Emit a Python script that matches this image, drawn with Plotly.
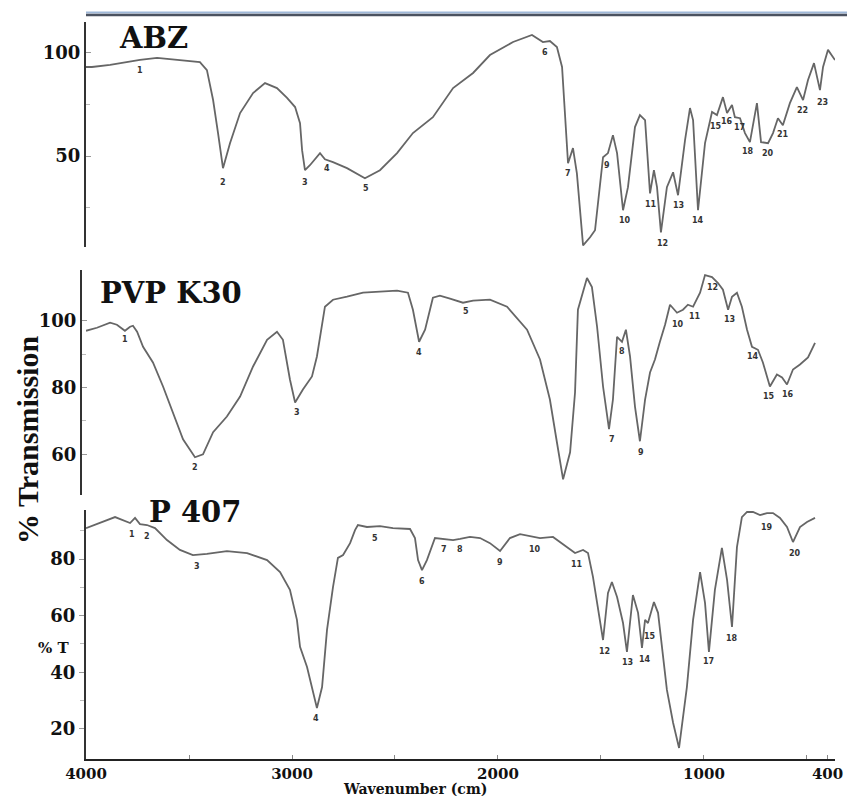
import plotly.graph_objects as go

# ---------------- data (wavenumber cm-1, %T) ----------------
abz_wn = [4000, 3971, 3883, 3801, 3738, 3655, 3607, 3510, 3447, 3413, 3383, 3359, 3335, 3301, 3252,
          3189, 3131, 3073, 3024, 2985, 2961, 2951, 2937, 2913, 2879, 2864, 2840, 2801, 2733, 2646,
          2573, 2490, 2413, 2316, 2218, 2121, 2039, 1927, 1835, 1782, 1748, 1714, 1689, 1675, 1660,
          1636, 1617, 1587, 1553, 1529, 1490, 1466, 1442, 1422, 1393, 1369, 1335, 1311, 1286, 1262,
          1243, 1228, 1209, 1180, 1150, 1126, 1092, 1068, 1053, 1029, 995, 961, 937, 908, 888, 864,
          850, 825, 801, 777, 743, 723, 689, 665, 641, 617, 583, 549, 519, 495, 466, 437, 422, 398, 364]
abz_t = [93.2, 93.2, 94.2, 95.6, 96.6, 97.6, 97.1, 96.1, 95.6, 91.7, 77.2, 61.2, 44.2, 56.3, 70.9,
         80.6, 85.4, 83.0, 78.2, 73.8, 66.0, 52.9, 43.2, 45.6, 49.5, 51.5, 48.5, 47.1, 44.2, 39.3,
         43.2, 51.5, 61.2, 68.9, 83.0, 90.3, 99.0, 105.3, 108.7, 105.3, 105.8, 102.9, 93.2, 68.9, 46.6,
         53.9, 41.7, 6.8, 10.7, 14.1, 49.5, 51.5, 60.2, 51.5, 23.8, 35.0, 64.1, 69.9, 67.5, 32.0,
         43.2, 35.0, 13.1, 35.0, 42.2, 31.1, 57.8, 73.3, 67.5, 23.8, 56.3, 71.4, 69.9, 78.6, 70.9, 74.8,
         68.9, 68.4, 61.2, 56.8, 75.7, 56.8, 56.3, 61.2, 68.4, 65.0, 75.7, 83.5, 77.2, 86.9, 95.1, 82.0, 93.2, 101.5, 96.6]

pvp_wn = [4000, 3947, 3883, 3850, 3811, 3786, 3772, 3752, 3723, 3675, 3626, 3578, 3529, 3471, 3432,
          3383, 3316, 3252, 3189, 3121, 3073, 3044, 3010, 2985, 2947, 2903, 2879, 2840, 2801, 2733,
          2655, 2573, 2490, 2437, 2413, 2383, 2354, 2316, 2282, 2233, 2170, 2121, 2039, 1956, 1859,
          1796, 1748, 1714, 1684, 1650, 1626, 1612, 1568, 1544, 1519, 1490, 1461, 1442, 1422, 1398,
          1379, 1359, 1335, 1311, 1286, 1262, 1238, 1214, 1189, 1165, 1131, 1102, 1078, 1053, 1019,
          995, 961, 932, 908, 883, 864, 840, 816, 791, 767, 738, 714, 680, 646, 621, 597, 568, 534, 495, 461]
pvp_t = [97.0, 97.9, 99.4, 98.8, 97.0, 98.2, 98.5, 96.7, 92.2, 87.5, 80.3, 72.5, 64.5, 59.1, 60.0,
         66.6, 71.3, 77.3, 86.3, 94.3, 96.7, 94.3, 82.4, 75.5, 79.4, 83.3, 89.3, 104.2, 106.3, 107.2,
         108.4, 108.7, 109.0, 108.4, 103.3, 93.7, 97.3, 106.9, 107.5, 106.6, 105.4, 106.0, 106.3, 104.2, 97.3,
         88.4, 76.4, 63.6, 52.5, 60.6, 78.5, 103.3, 112.8, 110.1, 98.2, 80.3, 67.5, 76.4, 95.2, 93.7,
         97.3, 89.3, 74.3, 63.9, 76.4, 84.5, 88.4, 93.7, 98.8, 104.8, 102.4, 103.3, 104.8, 104.2, 108.4,
         113.7, 113.1, 111.3, 109.3, 103.3, 107.2, 108.4, 104.2, 97.3, 92.2, 91.3, 87.5, 80.3, 83.9, 83.0, 80.9, 85.4, 86.9, 89.0, 93.4]

p407_wn = [4000, 3932, 3859, 3786, 3762, 3738, 3704, 3665, 3607, 3544, 3481, 3413, 3316, 3218, 3121,
           3058, 3010, 2976, 2961, 2927, 2898, 2879, 2854, 2830, 2801, 2777, 2752, 2718, 2694, 2680,
           2636, 2573, 2510, 2427, 2403, 2388, 2369, 2345, 2306, 2267, 2218, 2184, 2136, 2087, 2039,
           1990, 1942, 1893, 1845, 1796, 1733, 1699, 1665, 1626, 1587, 1563, 1539, 1515, 1490, 1466,
           1447, 1422, 1393, 1374, 1359, 1345, 1320, 1301, 1286, 1272, 1243, 1223, 1180, 1150, 1121,
           1083, 1053, 1019, 995, 976, 947, 913, 888, 864, 840, 816, 791, 762, 728, 694, 665, 631,
           597, 568, 534, 500, 461]
p407_t = [90.9, 92.7, 94.8, 92.7, 94.5, 92.3, 92.0, 90.9, 86.7, 83.2, 81.4, 81.8, 82.8, 82.1, 79.6,
          75.4, 69.1, 58.5, 49.0, 41.9, 32.7, 27.4, 34.8, 55.0, 70.1, 80.4, 81.4, 85.6, 90.2, 92.0,
          91.3, 91.6, 90.9, 90.6, 87.4, 79.6, 76.1, 79.6, 87.4, 87.1, 86.7, 87.1, 87.8, 87.4, 85.6,
          82.8, 87.4, 88.8, 88.1, 87.4, 87.8, 86.0, 83.9, 82.1, 83.2, 82.1, 73.7, 63.1, 51.4, 68.0,
          71.9, 66.6, 57.4, 47.2, 58.5, 67.3, 61.0, 48.6, 58.5, 57.4, 64.8, 61.0, 33.8, 22.2, 13.3,
          34.8, 58.5, 75.4, 64.5, 47.2, 69.1, 83.9, 72.6, 56.0, 84.2, 94.8, 96.6, 96.6, 95.5, 96.2, 96.2, 94.5,
          91.3, 86.0, 91.3, 93.1, 94.5]

# peak number labels
abz_lbl_wn = [3738, 3335, 2937, 2830, 2641, 1772, 1660, 1471, 1383, 1257, 1199, 1126, 1029, 942, 888, 830, 786, 689, 617, 524, 427]
abz_lbl_t = [91.7, 37.4, 37.4, 44.2, 34.5, 100.0, 41.7, 45.6, 18.9, 26.7, 7.8, 26.2, 18.9, 64.6, 66.6, 63.9, 52.4, 51.5, 60.7, 72.3, 76.2]
abz_lbl = ["1", "2", "3", "4", "5", "6", "7", "9", "10", "11", "12", "13", "14", "15", "16", "17", "18", "20", "21", "22", "23"]

pvp_lbl_wn = [3811, 3471, 2976, 2383, 2155, 1447, 1398, 1306, 1126, 1044, 961, 874, 762, 684, 592]
pvp_lbl_t = [94.3, 56.1, 72.5, 90.4, 102.7, 64.5, 90.7, 60.6, 98.8, 101.2, 110.1, 100.3, 89.3, 77.3, 77.9]
pvp_lbl = ["1", "2", "3", "4", "5", "7", "8", "9", "10", "11", "12", "13", "14", "15", "16"]

p407_lbl_wn = [3777, 3704, 3461, 2883, 2597, 2369, 2262, 2184, 1990, 1820, 1617, 1481, 1369, 1286, 1262, 976, 864, 694, 558]
p407_lbl_t = [88.8, 87.8, 77.5, 23.6, 87.4, 71.9, 83.2, 83.2, 78.9, 83.2, 77.9, 47.2, 43.3, 44.4, 52.8, 43.7, 52.1, 91.3, 82.1]
p407_lbl = ["1", "2", "3", "4", "5", "6", "7", "8", "9", "10", "11", "12", "13", "14", "15", "17", "18", "19", "20"]

x_ticks = [4000, 3000, 2000, 1000, 400]
panel_names = ["ABZ", "PVP K30", "P 407"]

# ---------------- figure ----------------
W, H = 847, 796
def px(x):
    return x / W
def py(y):
    return 1 - y / H

SERIF = "DejaVu Serif"
line_style = dict(color="#666666", width=1.8)

fig = go.Figure()
fig.add_trace(go.Scatter(x=abz_wn, y=abz_t, mode="lines", line=line_style, xaxis="x", yaxis="y", showlegend=False))
fig.add_trace(go.Scatter(x=pvp_wn, y=pvp_t, mode="lines", line=line_style, xaxis="x", yaxis="y2", showlegend=False))
fig.add_trace(go.Scatter(x=p407_wn, y=p407_t, mode="lines", line=line_style, xaxis="x", yaxis="y3", showlegend=False))

lbl_font = dict(family="DejaVu Sans", size=8, color="#333333", weight="bold")
for wn, t, s, ya in [(abz_lbl_wn, abz_lbl_t, abz_lbl, "y"), (pvp_lbl_wn, pvp_lbl_t, pvp_lbl, "y2"),
                     (p407_lbl_wn, p407_lbl_t, p407_lbl, "y3")]:
    for a, b, c in zip(wn, t, s):
        fig.add_annotation(x=a, y=b, text=c, xref="x", yref=ya, showarrow=False, font=lbl_font,
                           xanchor="center", yanchor="middle")

tickfont = dict(family=SERIF, size=18, color="#111111", weight="bold")
xtickfont = dict(family=SERIF, size=15, color="#111111", weight="bold")
xdom = [px(86), px(835)]

fig.update_layout(
    width=W, height=H, margin=dict(l=0, r=0, t=0, b=0, autoexpand=False),
    paper_bgcolor="white", plot_bgcolor="rgba(0,0,0,0)",
    xaxis=dict(domain=xdom, range=[4000, 364], anchor="y3", showgrid=False, zeroline=False, automargin=False,
               showline=True, linecolor="#222222", linewidth=2,
               tickvals=x_ticks, ticktext=[str(v) for v in x_ticks], ticks="inside", ticklen=4,
               tickcolor="#888888", tickfont=xtickfont,
               minor=dict(tickvals=[3500, 2500, 1500, 500], ticks="inside", ticklen=4, tickcolor="#888888")),
    yaxis=dict(domain=[py(247), py(22)], range=[6, 115], anchor="x", showgrid=False, zeroline=False, automargin=False,
               showline=True, linecolor="#333333", linewidth=2.2, tickvals=[50, 100], ticks="inside",
               ticklen=5, tickcolor="#999999", tickfont=tickfont,
               minor=dict(tickvals=[25, 75], ticks="inside", ticklen=4, tickcolor="#bbbbbb")),
    yaxis2=dict(domain=[py(495), py(270)], range=[47.8, 115.2], anchor="free", position=px(81), automargin=False,
                showgrid=False, zeroline=False, showline=True, linecolor="#333333", linewidth=2.2,
                tickvals=[60, 80, 100], ticks="inside", ticklen=5, tickcolor="#999999", tickfont=tickfont,
                minor=dict(tickvals=[70, 90], ticks="inside", ticklen=4, tickcolor="#bbbbbb")),
    yaxis3=dict(domain=[py(759), py(510)], range=[9.4, 97.3], anchor="x", showgrid=False, zeroline=False, automargin=False,
                showline=True, linecolor="#333333", linewidth=2.2, tickvals=[20, 40, 60, 80],
                ticks="outside", ticklen=5, tickcolor="#999999", tickfont=tickfont,
                minor=dict(tickvals=[30, 50, 70, 90], ticks="outside", ticklen=4, tickcolor="#bbbbbb")),
)

# top double rule
fig.add_shape(type="line", xref="paper", yref="paper", x0=px(86), x1=1, y0=py(12.5), y1=py(12.5),
              line=dict(color="#9fb8d8", width=2))
fig.add_shape(type="line", xref="paper", yref="paper", x0=px(86), x1=1, y0=py(15), y1=py(15),
              line=dict(color="#4b5260", width=2.5))

def text_at(cx, cy, s, font, angle=0):
    fig.add_annotation(x=px(cx), y=py(cy), xref="paper", yref="paper", text=s, showarrow=False,
                       xanchor="center", yanchor="middle", textangle=angle, font=font)

# panel titles
for name, (cx, cy) in zip(panel_names, [(153, 38), (171, 293), (195, 512)]):
    text_at(cx, cy, name, dict(family=SERIF, size=29, color="#111111", weight="bold"))

text_at(28, 440, "% Transmission", dict(family="Liberation Serif", size=30, color="#111111", weight="bold"), -90)
text_at(53, 648, "% T", dict(family=SERIF, size=15, color="#111111", weight="bold"))
text_at(415, 789, "Wavenumber (cm)", dict(family=SERIF, size=14, color="#111111", weight="bold"))

fig.write_html("out.html")
